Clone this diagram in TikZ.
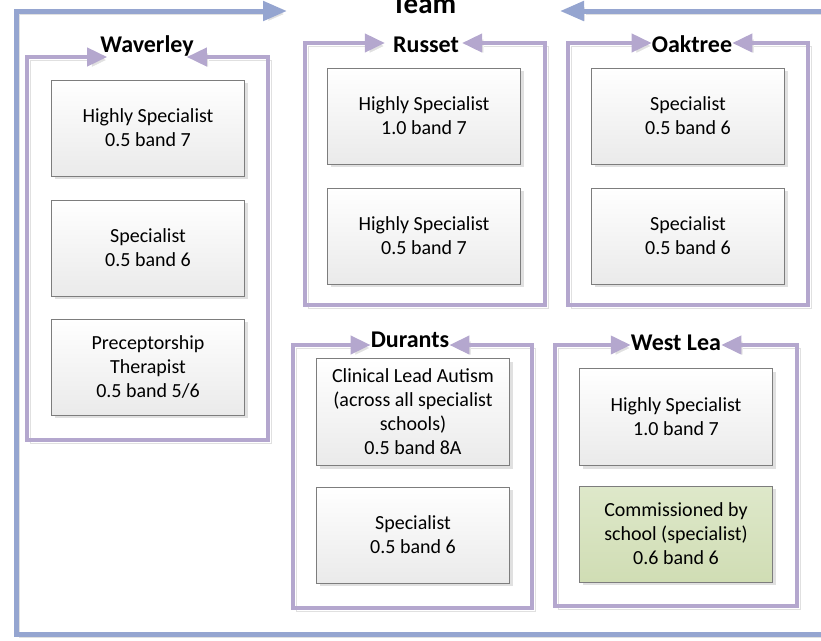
\documentclass[tikz,border=0pt]{standalone}
\usepackage{fontspec}
\setmainfont{Carlito}
\usetikzlibrary{arrows.meta,shadows,positioning}
\definecolor{teamblue}{RGB}{149,165,208}
\definecolor{grpline}{RGB}{180,167,206}
\definecolor{lineshade}{RGB}{224,224,224}
\definecolor{boxedge}{RGB}{125,125,125}
\definecolor{boxlow}{RGB}{234,234,234}
\definecolor{greentop}{RGB}{222,232,202}
\definecolor{greenlow}{RGB}{208,221,180}
\tikzset{
  post/.style={draw=boxedge, line width=0.7pt, top color=white, bottom color=boxlow,
    minimum width=193pt, minimum height=96pt, align=center, inner sep=2pt,
    font=\fontsize{20}{24}\selectfont,
    drop shadow={shadow xshift=3pt, shadow yshift=-3pt, fill=black, opacity=0.12}},
  school/.style={anchor=base, inner sep=0pt, font=\bfseries\fontsize{24}{28}\selectfont},
  grp/.style={draw=grpline, line width=4pt,
    {Triangle[length=20pt,width=18pt]}-{Triangle[length=20pt,width=18pt]},
    preaction={draw=lineshade, transform canvas={shift={(3pt,-3pt)}}}},
  team/.style={draw=teamblue, line width=5pt,
    {Triangle[length=24pt,width=19pt]}-{Triangle[length=24pt,width=19pt]},
    preaction={draw=lineshade, transform canvas={shift={(3pt,-3pt)}}}}
}
\begin{document}
\begin{tikzpicture}[x=1pt,y=-1pt]
	\useasboundingbox (0,0) rectangle (821,640);
	% whole team
	\node[school, font=\bfseries\fontsize{29}{32}\selectfont] (team) at (424,13) {Team};
	\coordinate (teamL) at (287,11);
	\coordinate (teamR) at (560,11);
	\draw[team] (teamL) -- (16,11) -- (16,634) -- (860,634) -- (860,11) -- (teamR);
	
	% Waverley
	\node[school] (wav) at (147,52) {Waverley};
	\draw[grp] ([xshift=7pt]wav.west |- 0,57) -- (27,57) -- (27,440) -- (268,440) -- (268,57) -- ([xshift=-7pt]wav.east |- 0,57);
	\node[post] (wav1) at (148,128) {Highly Specialist\\0.5 band 7};
	\node[post] (wav2) at (148,248) {Specialist\\0.5 band 6};
	\node[post] (wav3) at (148,367) {Preceptorship\\Therapist\\0.5 band 5/6};
	
	% Russet
	\node[school] (rus) at (426,52) {Russet};
	\draw[grp] ([xshift=-8pt]rus.west |- 0,43) -- (305,43) -- (305,305) -- (545,305) -- (545,43) -- ([xshift=3pt]rus.east |- 0,43);
	\node[post] (rus1) at (424,116) {Highly Specialist\\1.0 band 7};
	\node[post] (rus2) at (424,236) {Highly Specialist\\0.5 band 7};
	
	% Oaktree
	\node[school] (oak) at (692,52) {Oaktree};
	\draw[grp] (oak.west |- 0,43) -- (568,43) -- (568,305) -- (808,305) -- (808,43) -- (oak.east |- 0,43);
	\node[post] (oak1) at (688,116) {Specialist\\0.5 band 6};
	\node[post] (oak2) at (688,236) {Specialist\\0.5 band 6};
	
	% Durants
	\node[school] (dur) at (410,347) {Durants};
	\draw[grp] (dur.west |- 0,345) -- (293,345) -- (293,608) -- (532,608) -- (532,345) -- (dur.east |- 0,345);
	\node[post, minimum height=107pt] (dur1) at (413,412) {Clinical Lead Autism\\(across all specialist\\schools)\\0.5 band 8A};
	\node[post] (dur2) at (413,535) {Specialist\\0.5 band 6};
	
	% West Lea
	\node[school] (wl) at (676,350) {West Lea};
	\draw[grp] (wl.west |- 0,345) -- (555,345) -- (555,606) -- (797,606) -- (797,345) -- (wl.east |- 0,345);
	\node[post, minimum height=97pt] (wl1) at (676,417) {Highly Specialist\\1.0 band 7};
	\node[post, top color=greentop, bottom color=greenlow] (wl2) at (676,534) {Commissioned by\\school (specialist)\\0.6 band 6};
\end{tikzpicture}
\end{document}
